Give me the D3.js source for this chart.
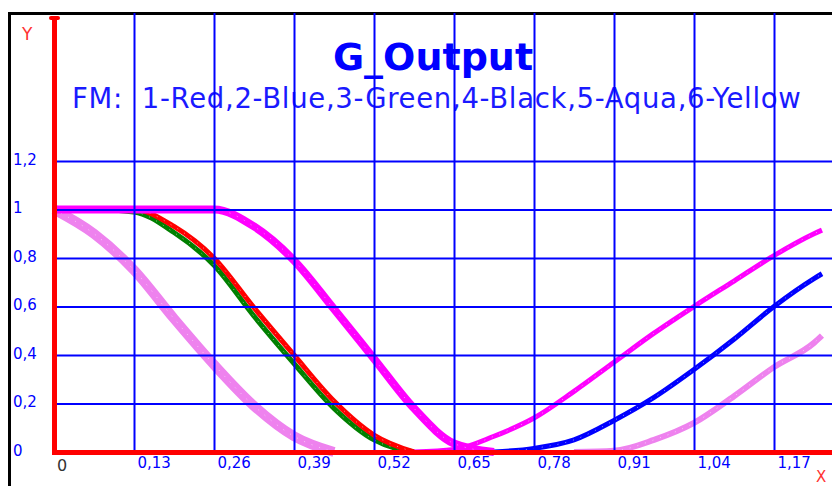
<!DOCTYPE html>
<html>
<head>
<meta charset="utf-8">
<script src="https://cdnjs.cloudflare.com/ajax/libs/d3/7.8.5/d3.min.js"></script>
<style>
body { margin: 0; background: #fff; }
svg { display: block; }
</style>
</head>
<body>
<svg></svg>
<script>
// values, one entry per x position (null = not drawn)
const xValues = [0, 0.065, 0.13, 0.195, 0.26, 0.325, 0.39, 0.455, 0.52, 0.585, 0.65,
                 0.715, 0.78, 0.845, 0.91, 0.975, 1.04, 1.105, 1.17, 1.235, 1.248];
const red = [1, 1, 1, 0.93, 0.8, 0.595, 0.4, 0.21, 0.07, 0,
             null, null, null, null, null, null, null, null, null, null, null];
const green = [1, 1, 0.99, 0.905, 0.77, 0.56, 0.365, 0.18, 0.05, 0,
               null, null, null, null, null, null, null, null, null, null, null];
const magentaDown = [1, 1, 1, 1, 1, 0.93, 0.79, 0.59, 0.385, 0.18, 0.035, 0,
                     null, null, null, null, null, null, null, null, null];
const magentaUp = [null, null, null, null, null, null, null, null, null,
                   0, 0.01, 0.065, 0.14, 0.25, 0.37, 0.49, 0.6, 0.705, 0.81, 0.9, 0.915];
const blue = [null, null, null, null, null, null, null, null, null, null, null,
              0, 0.015, 0.05, 0.13, 0.225, 0.34, 0.465, 0.6, 0.715, 0.735];
const violetDown = [1, 0.9, 0.75, 0.55, 0.36, 0.19, 0.065, 0,
                    null, null, null, null, null, null, null, null, null, null, null, null, null];
const violetUp = [null, null, null, null, null, null, null, null, null, null, null, null, null,
                  0, 0.005, 0.05, 0.12, 0.23, 0.35, 0.45, 0.48];

const xTicks = [0.13, 0.26, 0.39, 0.52, 0.65, 0.78, 0.91, 1.04, 1.17];
const yTicks = [0, 0.2, 0.4, 0.6, 0.8, 1, 1.2];

const titleText = 'G_Output';
const subText = 'FM:  1-Red,2-Blue,3-Green,4-Black,5-Aqua,6-Yellow';

const WIDTH = 832;
const HEIGHT = 486;
const TOP = 13;

let svg = d3.select('svg').attr('width', WIDTH).attr('height', HEIGHT)
  .style('font-family', '"DejaVu Sans", Verdana, sans-serif');

let xScale = d3.scaleLinear().domain([0, 1.3]).range([54, 854]);
let yScale = d3.scaleLinear().domain([0, 1.2]).range([452, 161]);

const fmt = d3.formatLocale({decimal: ',', thousands: '.', grouping: [3], currency: ['', '']}).format('~g');

// frame
svg.append('line').attr('x1', 8).attr('x2', WIDTH).attr('y1', TOP + 0.5).attr('y2', TOP + 0.5)
  .attr('stroke', '#000').attr('stroke-width', 3);
svg.append('line').attr('x1', 9.5).attr('x2', 9.5).attr('y1', TOP - 1).attr('y2', HEIGHT)
  .attr('stroke', '#000').attr('stroke-width', 3);

// titles
svg.append('text').attr('x', 433).attr('y', 70).attr('text-anchor', 'middle')
  .attr('font-size', 38).attr('font-weight', 'bold').attr('fill', '#0000ff').text(titleText);
svg.append('text').attr('x', 72).attr('y', 108).attr('xml:space', 'preserve')
  .attr('font-size', 27.5).attr('letter-spacing', 0.7).attr('fill', '#1a1aff').text(subText);

// curves
let line = d3.line()
  .defined((d) => d != null)
  .x((d, i) => xScale(xValues[i]))
  .y((d) => yScale(d))
  .curve(d3.curveMonotoneX);

function drawCurve(vals, colour, width) {
  svg.append('path').datum(vals).attr('d', line)
    .attr('fill', 'none').attr('stroke', colour).attr('stroke-width', width)
    .attr('stroke-linejoin', 'round');
  svg.append('path').datum(vals).attr('d', line)
    .attr('fill', 'none').attr('stroke', '#fff').attr('stroke-width', 1)
    .attr('stroke-dasharray', '1 7').attr('opacity', 0.55);
}

drawCurve(violetDown, '#ee82ee', 10);
drawCurve(violetUp, '#ee82ee', 6);
drawCurve(green, '#008000', 5);
drawCurve(red, '#ff0000', 5);
drawCurve(blue, '#0000ff', 5);
drawCurve(magentaUp, '#ff00ff', 5);
drawCurve(magentaDown, '#ff00ff', 8);

// grid + tick labels
let gx = svg.append('g').attr('transform', `translate(0, ${yScale(0)})`)
  .call(d3.axisBottom(xScale).tickValues(xTicks).tickSize(-(yScale(0) - TOP)).tickFormat(fmt));
gx.select('.domain').remove();
gx.attr('font-family', null).attr('font-size', null);
gx.selectAll('line').attr('stroke', '#0000ff').attr('stroke-width', 2);
gx.selectAll('text').attr('text-anchor', 'start').attr('x', 3).attr('y', 16).attr('dy', null)
  .attr('font-size', 15).attr('fill', '#0000ff');

let gy = svg.append('g').attr('transform', `translate(${xScale(0)}, 0)`)
  .call(d3.axisLeft(yScale).tickValues(yTicks).tickSize(-(WIDTH - xScale(0))).tickFormat(fmt));
gy.select('.domain').remove();
gy.attr('font-family', null).attr('font-size', null);
gy.selectAll('line').attr('stroke', '#0000ff').attr('stroke-width', 2);
gy.selectAll('.tick').filter((d) => d == 0).select('line').remove();
gy.selectAll('text').attr('text-anchor', 'start').attr('x', 13 - xScale(0)).attr('y', -2)
  .attr('dy', '0.35em').attr('font-size', 15).attr('fill', '#0000ff');

// red axes
svg.append('line').attr('x1', xScale(0) + 0.5).attr('x2', xScale(0) + 0.5)
  .attr('y1', 18).attr('y2', yScale(0) + 3)
  .attr('stroke', '#ff0000').attr('stroke-width', 5);
svg.append('rect').attr('x', xScale(0) - 5).attr('y', 16).attr('width', 11).attr('height', 4)
  .attr('rx', 2).attr('fill', '#ff0000');
svg.append('line').attr('x1', xScale(0) - 2).attr('x2', WIDTH)
  .attr('y1', yScale(0) + 0.5).attr('y2', yScale(0) + 0.5)
  .attr('stroke', '#ff0000').attr('stroke-width', 5);

// axis names and origin
svg.append('text').attr('x', 22).attr('y', 40).attr('font-size', 17).attr('fill', '#ff3333').text('Y');
svg.append('text').attr('x', 816).attr('y', 482).attr('font-size', 15).attr('fill', '#ff3333').text('X');
svg.append('text').attr('x', 57).attr('y', 471).attr('font-size', 16).attr('fill', '#333').text('0');
</script>
</body>
</html>
